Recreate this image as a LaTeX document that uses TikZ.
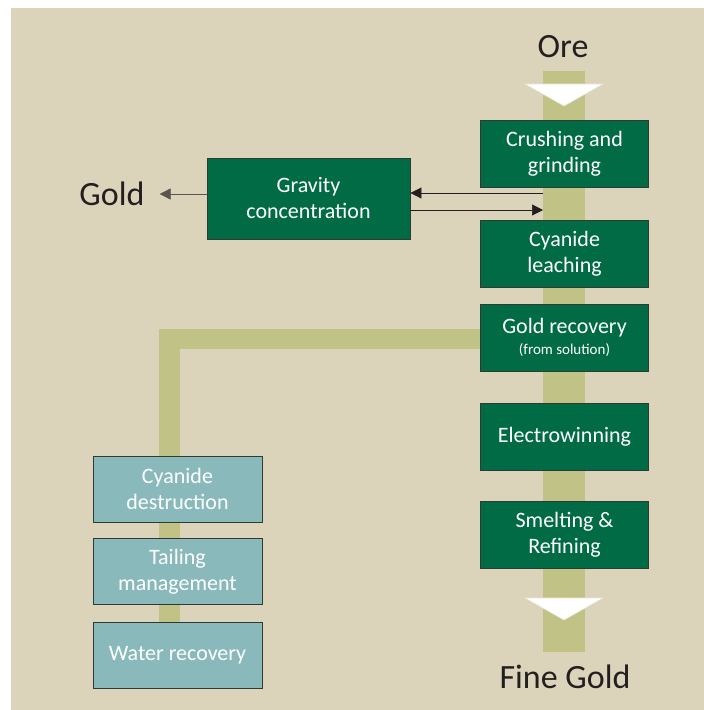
\documentclass[tikz,border=0pt]{standalone}
\usepackage{fontspec}
\setmainfont{Carlito}
\usetikzlibrary{arrows.meta,positioning}

\definecolor{sand}{HTML}{DCD3BB}
\definecolor{band}{HTML}{C1C286}
\definecolor{leaf}{HTML}{006B45}
\definecolor{leafedge}{HTML}{2E3B33}
\definecolor{pool}{HTML}{89B9BB}
\definecolor{ink}{HTML}{231F20}

\begin{document}
\begin{tikzpicture}[x=1pt,y=-1pt,node distance=99pt,on grid,
    stage/.style={draw=leafedge,line width=0.8pt,fill=leaf,text=white,
        minimum width=168pt,minimum height=67pt,inner sep=0pt,align=center,
        font=\fontsize{22}{26}\selectfont},
    waste/.style={stage,fill=pool,minimum width=169pt,minimum height=66pt},
    endlabel/.style={text=ink,inner sep=0pt,font=\fontsize{34}{38}\selectfont},
    flow/.style={-{Triangle[length=11pt,width=11pt]},ink,line width=0.7pt},
    stream/.style={band,line width=#1},
    marker/.style={fill=white,draw=band!40!white,line width=0.6pt}]

    % frame
    \useasboundingbox (0,0) rectangle (704,710);
    \fill[sand] (11,8) rectangle (704,710);

    % main stream and tailings stream
    \coordinate (top) at (564,71);
    \coordinate (bottom) at (564,652);
    \draw[stream=42pt] (top) -- (bottom);
    \coordinate (tailstart) at (480,339);
    \coordinate (tailend) at (169.5,622);
    \draw[stream=20.5pt,line join=miter] (tailstart) -| (tailend);

    % flow markers
    \filldraw[marker] (525,84) -- (603,84) -- (564,106) -- cycle;
    \filldraw[marker] (525,598) -- (603,598) -- (564,620) -- cycle;

    % main circuit
    \node[stage] (crush)                    at (564.5,154) {Crushing and\\grinding};
    \node[stage] (leach)  [below=99.5pt of crush] {Cyanide\\leaching};
    \node[stage] (recov)  [below=84pt of leach]   {Gold recovery\\[-5pt]{\fontsize{15}{18}\selectfont(from solution)}};
    \node[stage] (elec)   [below=of recov]  {Electrowinning};
    \node[stage] (smelt)  [below=98pt of elec]    {Smelting \&\\Refining};

    % gravity circuit
    \node[stage,minimum width=203pt,minimum height=81pt] (grav) at (308.5,198.5)
        {Gravity\\concentration};
    \node[endlabel] (gold) at (112,194) {Gold};

    % tailings
    \node[waste] (destr)                    at (177.5,489) {Cyanide\\destruction};
    \node[waste] (tail)   [below=82.5pt of destr] {Tailing\\management};
    \node[waste] (water)  [below=83.5pt of tail]  {Water recovery};

    % ends
    \node[endlabel] (ore)  at (563,47)  {Ore};
    \node[endlabel] (fine) at (565,677) {Fine Gold};

    % arrows
    \coordinate (tapout) at (543,193);
    \coordinate (tapin)  at (543,210);
    \draw[flow] (tapout) -- (tapout -| grav.east);
    \draw[flow] (tapin -| grav.east) -- (tapin);
    \draw[flow,draw=ink!70!sand] (grav.west |- gold) -- ++(-47,0);
\end{tikzpicture}
\end{document}
